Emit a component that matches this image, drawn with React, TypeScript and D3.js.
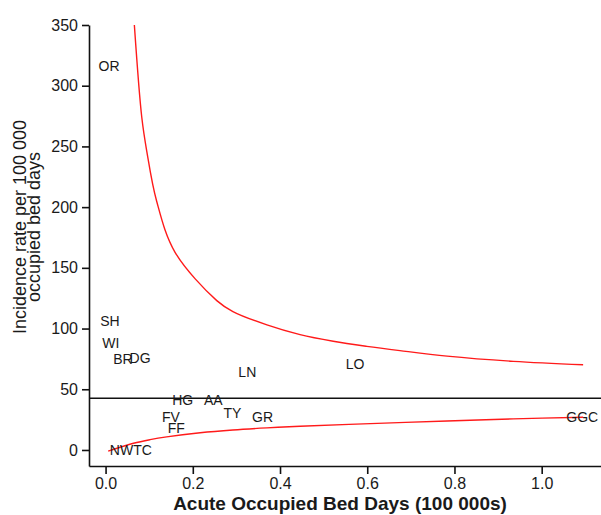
import * as d3 from 'd3'
import { useEffect, useRef } from 'react'

// hospital codes and their (bed days, incidence) values
const codes = ['OR', 'SH', 'WI', 'BR', 'DG', 'LN', 'LO', 'HG', 'AA', 'TY', 'GR', 'FV', 'FF', 'NWTC', 'GGC']
const bedDays = [0.008, 0.01, 0.012, 0.04, 0.079, 0.325, 0.572, 0.177, 0.247, 0.291, 0.36, 0.15, 0.162, 0.058, 1.093]
const incidence = [316, 106, 88.5, 75, 76, 64.5, 71, 40.8, 40.8, 30.5, 27.4, 27.4, 18.4, 0, 27.4]

// mean incidence
const meanRate = 42.6

// control limits
const upperX = [0.066, 0.083, 0.0945, 0.117, 0.159, 0.255, 0.292, 0.37, 0.446, 0.522, 0.599, 0.675, 0.783, 0.935, 1.095]
const upperY = [350, 274, 246, 205, 163, 123, 114, 103, 95, 89.5, 85.3, 81.8, 77.3, 73, 70.2]
const lowerX = [0.006, 0.064, 0.102, 0.14, 0.217, 0.292, 0.37, 0.446, 0.607, 0.783, 0.935, 1.095]
const lowerY = [-1, 5.5, 8.5, 10.8, 14.2, 16.5, 18.2, 19.5, 21.7, 23.8, 25.6, 27]

const xTicks = [0, 0.2, 0.4, 0.6, 0.8, 1.0]
const yTicks = [0, 50, 100, 150, 200, 250, 300, 350]

const W = 601
const H = 515
const FONT = '"Liberation Sans", Arial, sans-serif'

const App = () => {
  const svgRef = useRef<SVGSVGElement>(null)

  useEffect(() => {
    const svg = d3.select(svgRef.current)
    svg.selectAll('*').remove()

    const x = d3.scaleLinear().domain([-0.038, 1.136]).range([89, 601])
    const y = d3.scaleLinear().domain([-13.2, 350]).range([466, 25])

    // axes
    const xAxis = svg
      .append('g')
      .attr('transform', 'translate(0,' + y(-13.2) + ')')
      .call(d3.axisBottom(x).tickValues(xTicks).tickFormat(d3.format('.1f')).tickSize(8).tickSizeOuter(0).tickPadding(4))
    const yAxis = svg
      .append('g')
      .attr('transform', 'translate(' + x(-0.038) + ',0)')
      .call(d3.axisLeft(y).tickValues(yTicks).tickSize(7).tickSizeOuter(0).tickPadding(4))

    for (const ax of [xAxis, yAxis]) {
      ax.select('.domain').attr('stroke', '#111').attr('stroke-width', 1.6)
      ax.selectAll('.tick line').attr('stroke', '#111').attr('stroke-width', 1.6)
      ax.selectAll('.tick text')
        .attr('fill', '#1a1a1a')
        .style('font-family', FONT)
        .style('font-size', '16px')
    }

    // mean line
    svg
      .append('line')
      .attr('x1', x(-0.038))
      .attr('x2', W)
      .attr('y1', y(meanRate))
      .attr('y2', y(meanRate))
      .attr('stroke', '#111')
      .attr('stroke-width', 1.5)

    // funnel limits
    const line = d3
      .line<[number, number]>()
      .x((d) => x(d[0]))
      .y((d) => y(d[1]))
      .curve(d3.curveCatmullRom.alpha(0.5))

    const upper = upperX.map((v, i) => [v, upperY[i]] as [number, number])
    const lower = lowerX.map((v, i) => [v, lowerY[i]] as [number, number])

    svg
      .selectAll('path.limit')
      .data([upper, lower])
      .enter()
      .append('path')
      .attr('class', 'limit')
      .attr('d', (d) => line(d))
      .attr('fill', 'none')
      .attr('stroke', '#ff1a1a')
      .attr('stroke-width', 1.4)

    // hospital labels in place of points
    svg
      .selectAll('text.code')
      .data(codes)
      .enter()
      .append('text')
      .attr('class', 'code')
      .attr('x', (d, i) => x(bedDays[i]))
      .attr('y', (d, i) => y(incidence[i]))
      .attr('dy', '0.36em')
      .attr('text-anchor', 'middle')
      .attr('fill', '#1a1a1a')
      .style('font-family', FONT)
      .style('font-size', '14px')
      .text((d) => d)

    // axis titles
    svg
      .append('text')
      .attr('x', 340)
      .attr('y', 510)
      .attr('text-anchor', 'middle')
      .attr('fill', '#1a1a1a')
      .style('font-family', FONT)
      .style('font-size', '19px')
      .style('font-weight', 'bold')
      .text('Acute Occupied Bed Days (100 000s)')

    const yt = svg
      .append('text')
      .attr('transform', 'translate(26,227) rotate(-90)')
      .attr('text-anchor', 'middle')
      .attr('fill', '#1a1a1a')
      .style('font-family', FONT)
      .style('font-size', '18px')
    yt.append('tspan').attr('x', 0).attr('y', 0).text('Incidence rate per 100 000')
    yt.append('tspan').attr('x', 0).attr('y', 14).text('occupied bed days')
  }, [])

  return (
    <svg
      ref={svgRef}
      width={W}
      height={H}
      style={{ position: 'absolute', left: 0, top: 0, background: '#fff' }}
    />
  )
}

export default App
